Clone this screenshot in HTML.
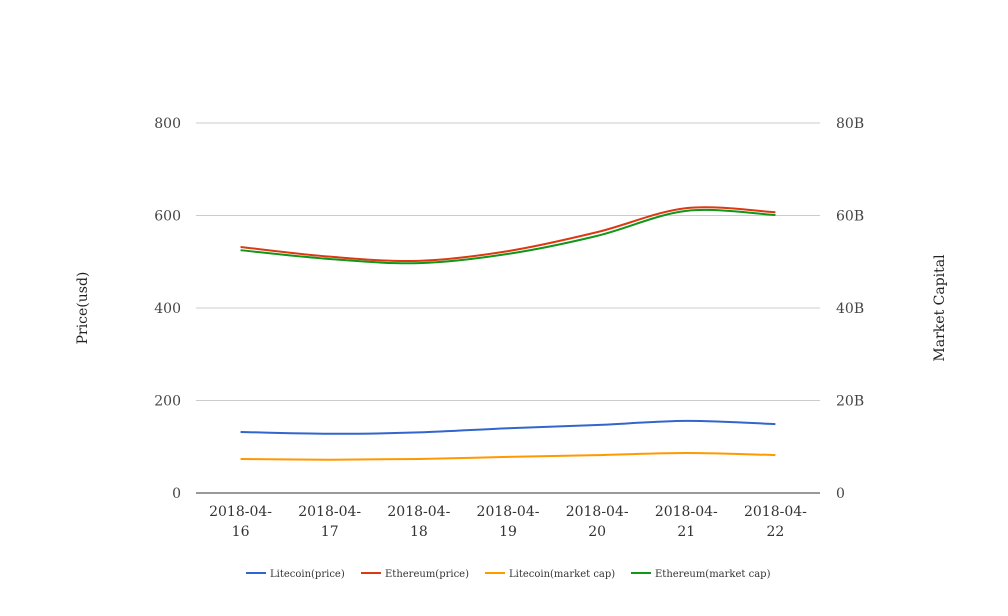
<!DOCTYPE html>
<html><head><meta charset="utf-8"><style>
html,body{margin:0;padding:0;background:#fff}
svg{display:block;font-family:"DejaVu Serif","Liberation Serif",serif}
</style></head><body>
<svg id="c" width="1008" height="616"></svg>
<script>
const categories=["2018-04-16","2018-04-17","2018-04-18","2018-04-19","2018-04-20","2018-04-21","2018-04-22"];
const litecoinPrice=[132,128,131,140,147,156,149];
const ethereumPrice=[532,511,502,523,564,616,607];
const litecoinCap=[7.35,7.2,7.35,7.8,8.2,8.65,8.2];
const ethereumCap=[52.5,50.6,49.7,51.7,55.6,61.0,60.1];
const leftTicks=[0,200,400,600,800];
const rightTickLabels=["0","20B","40B","60B","80B"];
const seriesNames=["Litecoin(price)","Ethereum(price)","Litecoin(market cap)","Ethereum(market cap)"];

const NS="http://www.w3.org/2000/svg";
const svg=document.getElementById('c');
const X0=196,X1=820,Y0=493,Y1=123;
const step=(X1-X0)/categories.length;
const x=i=>X0+step*(i+0.5);
const yL=v=>Y0-(v/800)*(Y0-Y1);
const yR=v=>Y0-(v/80)*(Y0-Y1);
function el(t,a,txt){const e=document.createElementNS(NS,t);for(const k in a)e.setAttribute(k,a[k]);if(txt!==undefined)e.textContent=txt;svg.appendChild(e);return e;}

leftTicks.forEach((t,i)=>{
  const g=el('line',{x1:X0,x2:X1,y1:yL(t),y2:yL(t),stroke:i==0?'#333':'#ccc','stroke-width':1});
  
  
  const a=el('text',{x:181,y:yL(t)+5,'text-anchor':'end','font-size':14,fill:'#444'},t);
  
  
  const b=el('text',{x:836,y:yL(t)+5,'font-size':14,fill:'#444'},rightTickLabels[i]);
  
  
});
categories.forEach((c,i)=>{
  const p=c.split('-');
  const t1=el('text',{x:x(i),y:516,'text-anchor':'middle','font-size':14,fill:'#333'},p[0]+'-'+p[1]+'-');
  
  
  const t2=el('text',{x:x(i),y:536,'text-anchor':'middle','font-size':14,fill:'#333'},p[2]);
  
  
});
const lt=el('text',{x:0,y:0,'text-anchor':'middle','font-size':14,fill:'#222',transform:'translate(87,308) rotate(-90)'},'Price(usd)');


const rt=el('text',{x:0,y:0,'text-anchor':'middle','font-size':14,fill:'#222',transform:'translate(944,308) rotate(-90)'},'Market Capital');



function smooth(pts){
  let d='M'+pts[0][0]+','+pts[0][1];
  for(let i=0;i<pts.length-1;i++){
    const p0=pts[i-1]||pts[i],p1=pts[i],p2=pts[i+1],p3=pts[i+2]||p2;
    const c1=[p1[0]+(p2[0]-p0[0])/6,p1[1]+(p2[1]-p0[1])/6];
    const c2=[p2[0]-(p3[0]-p1[0])/6,p2[1]-(p3[1]-p1[1])/6];
    d+=' C'+c1+' '+c2+' '+p2;
  }
  return d;
}
const series=[[litecoinPrice,yL,'#3366cc'],[ethereumPrice,yL,'#dc3912'],[litecoinCap,yR,'#ff9900'],[ethereumCap,yR,'#109618']];
const order=[0,2,1,3];
order.forEach(si=>{
  const [vals,fy,col]=series[si];
  const p=el('path',{d:smooth(vals.map((v,i)=>[x(i),fy(v)])),fill:'none',stroke:col,'stroke-width':2});
  
  
});
const legX=[246,361,485,631];
seriesNames.forEach((n,i)=>{
  const l=el('line',{x1:legX[i],x2:legX[i]+20,y1:573,y2:573,stroke:series[i][2],'stroke-width':2});
  
  
  const t=el('text',{x:legX[i]+24,y:577,'font-size':10,fill:'#333'},n);
  
  
});
</script>
</body></html>
